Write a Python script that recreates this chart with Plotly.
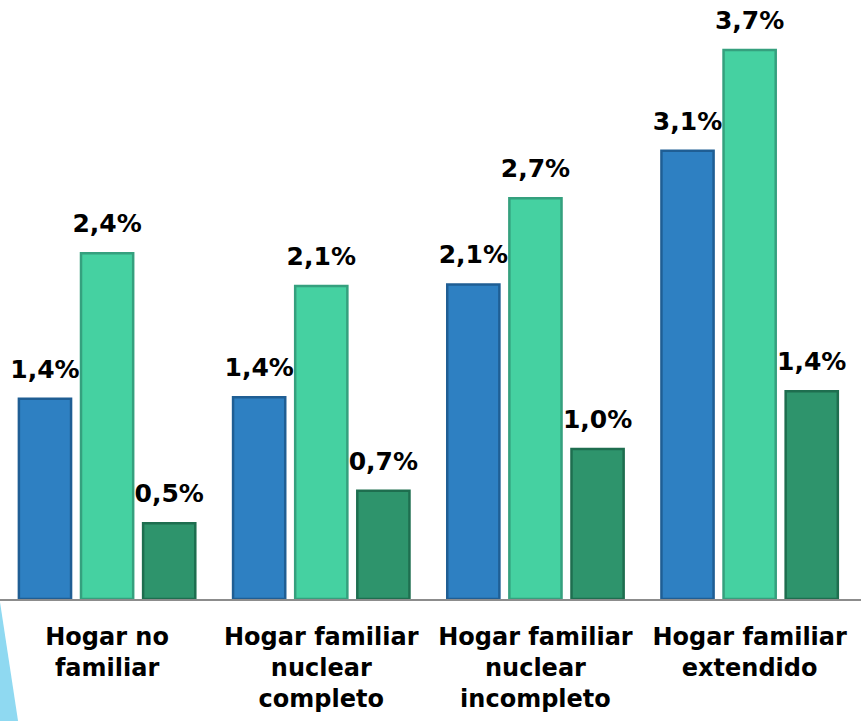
import plotly.graph_objects as go

# categorias del eje x
categorias = ["Hogar no<br>familiar", "Hogar familiar<br>nuclear<br>completo",
              "Hogar familiar<br>nuclear<br>incompleto", "Hogar familiar<br>extendido"]

# valores (en %)
serie_azul = [1.35, 1.36, 2.12, 3.02]
serie_turquesa = [2.33, 2.11, 2.70, 3.70]
serie_verde = [0.51, 0.73, 1.01, 1.40]

# etiquetas tal como aparecen
etiq_azul = ["1,4%", "1,4%", "2,1%", "3,1%"]
etiq_turquesa = ["2,4%", "2,1%", "2,7%", "3,7%"]
etiq_verde = ["0,5%", "0,7%", "1,0%", "1,4%"]

fuente = "DejaVu Sans"
escala = 148.4          # px por punto porcentual
hueco = 12 / escala     # separacion entre barra y etiqueta

fig = go.Figure()
series = [
    ("a", serie_azul, etiq_azul, "#2E80C2", "#1F5E94"),
    ("b", serie_turquesa, etiq_turquesa, "#45D1A1", "#35A07E"),
    ("c", serie_verde, etiq_verde, "#2E946C", "#1E6E4F"),
]
for grupo, vals, etiq, color, borde in series:
    fig.add_trace(go.Bar(
        x=categorias, y=vals, offsetgroup=grupo,
        marker=dict(color=color, line=dict(color=borde, width=2.5)),
        hoverinfo="skip",
    ))
    # barra invisible algo mas alta que solo lleva la etiqueta
    fig.add_trace(go.Bar(
        x=categorias, y=[v + hueco for v in vals], offsetgroup=grupo,
        text=etiq, textposition="outside", constraintext="none", cliponaxis=False,
        textfont=dict(family=fuente, size=25, color="black", weight="bold"),
        marker=dict(color="rgba(0,0,0,0)", line=dict(width=0)),
        hoverinfo="skip",
    ))

# cuña decorativa celeste abajo a la izquierda
fig.add_shape(type="path", xref="paper", yref="paper",
              path="M 0,-0.005 L 0.021,-0.204 L 0,-0.204 Z",
              fillcolor="#8FD9F1", line=dict(width=0), layer="below")

fig.update_layout(
    width=861, height=721,
    margin=dict(l=0, r=0, t=0, b=122),
    paper_bgcolor="white", plot_bgcolor="white",
    barmode="group", bargap=0.13, bargroupgap=0.16,
    showlegend=False,
    font=dict(family=fuente, size=20, color="black"),
)
fig.update_xaxes(
    showline=True, linecolor="#8C8C8C", linewidth=2,
    tickfont=dict(family=fuente, size=24, color="black", weight="bold"),
    ticks="", range=[-0.5, 3.52], automargin=False, ticklabelstandoff=15,
)
fig.update_yaxes(visible=False, range=[0, 599 / escala], showgrid=False,
                 automargin=False)

# quitar el margen por defecto del body para que la figura quede en 0,0
fig.write_html("out.html", config={"displayModeBar": False},
               post_script="document.body.style.margin='0';")
